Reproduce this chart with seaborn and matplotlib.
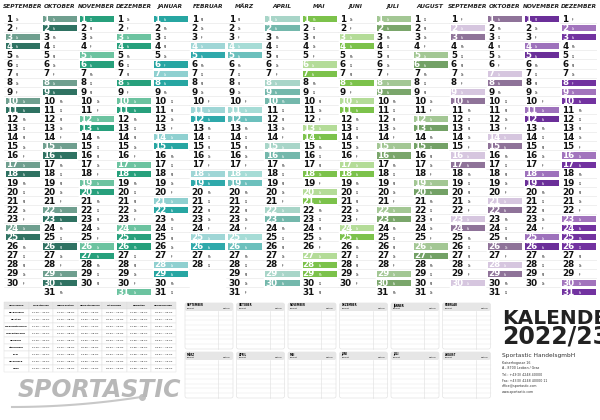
import datetime as dt
import numpy as np
import pandas as pd
import seaborn as sns
import matplotlib
matplotlib.use("Agg")
import matplotlib.pyplot as plt
from matplotlib.colors import ListedColormap
from matplotlib.patches import FancyBboxPatch

months = [(2022, 9), (2022, 10), (2022, 11), (2022, 12), (2023, 1), (2023, 2), (2023, 3), (2023, 4),
          (2023, 5), (2023, 6), (2023, 7), (2023, 8), (2023, 9), (2023, 10), (2023, 11), (2023, 12)]
month_names = ["SEPTEMBER", "OKTOBER", "NOVEMBER", "DEZEMBER", "JANUAR", "FEBRUAR", "MÄRZ", "APRIL",
               "MAI", "JUNI", "JULI", "AUGUST", "SEPTEMBER", "OKTOBER", "NOVEMBER", "DEZEMBER"]
sat_colors = ["#6f9f8f", "#6f9f8f", "#6cc3a0", "#6cc3a0", "#8fd0d0", "#9fd6d6", "#a6dcd6", "#a8d5c8",
              "#b4dc98", "#b4dc98", "#a3c794", "#a3c794", "#d6c6df", "#d6c6df", "#9e72bc", "#a274bd"]
sun_colors = ["#2f7262", "#2f7262", "#27a07c", "#27a07c", "#27a6a2", "#2fa9ab", "#6cc0bd", "#74b8ac",
              "#7cc24b", "#7cc24b", "#7aa66b", "#73a166", "#8f7399", "#8f7399", "#6b2f99", "#7232a0"]
holidays = ["2022-11-01", "2022-12-08", "2022-12-25", "2022-12-26", "2023-01-01", "2023-01-06",
            "2023-04-10", "2023-05-01", "2023-05-18", "2023-05-29", "2023-06-08", "2023-08-15",
            "2023-10-26", "2023-11-01", "2023-12-08", "2023-12-25", "2023-12-26", "2022-10-26"]
wd_abbr = ["Mo", "Di", "Mi", "Do", "Fr", "Sa", "So"]

ferien_cols = ["Schulferien", "Herbstferien", "Weihnachten", "Semesterferien", "Osterferien", "Pfingsten", "Sommerferien"]
ferien_rows = ["Burgenland", "Kärnten", "Niederösterreich", "Oberösterreich", "Salzburg", "Steiermark", "Tirol", "Vorarlberg", "Wien"]
ferien_semester = ["13.02. – 19.02.", "13.02. – 19.02.", "06.02. – 12.02.", "20.02. – 26.02.", "13.02. – 19.02.",
                   "20.02. – 26.02.", "13.02. – 19.02.", "13.02. – 19.02.", "06.02. – 12.02."]
ferien_sommer = ["01.07. – 03.09.", "08.07. – 10.09.", "01.07. – 03.09.", "08.07. – 10.09.", "08.07. – 10.09.",
                 "08.07. – 10.09.", "08.07. – 10.09.", "08.07. – 10.09.", "01.07. – 03.09."]
note_months = ["SEPTEMBER", "OKTOBER", "NOVEMBER", "DEZEMBER", "JÄNNER", "FEBRUAR",
               "MÄRZ", "APRIL", "MAI", "JUNI", "JULI", "AUGUST"]

hol = {dt.date.fromisoformat(h) for h in holidays}
code = np.full((31, 16), np.nan)
for j, (y, m) in enumerate(months):
    for d in range(1, 32):
        try:
            date = dt.date(y, m, d)
        except ValueError:
            continue
        wd = date.weekday()
        if date in hol or wd == 6:
            code[d - 1, j] = 2 + 2 * j
        elif wd == 5:
            code[d - 1, j] = 1 + 2 * j
        else:
            code[d - 1, j] = 0
palette = ["#ffffff"]
for s, u in zip(sat_colors, sun_colors):
    palette += [s, u]
cmap = ListedColormap(palette)

fig = plt.figure(figsize=(6, 4.2), dpi=100)
W, H = 600, 420
ax = fig.add_axes([4 / W, 1 - 296 / H, 593 / W, 282 / H])
df = pd.DataFrame(code)
sns.heatmap(df, ax=ax, cmap=cmap, vmin=-0.5, vmax=len(palette) - 0.5, cbar=False,
            linewidths=1.0, linecolor="white", mask=df.isna())
ax.set_xticks([]); ax.set_yticks([])
for j, (y, m) in enumerate(months):
    ax.text(j + 0.5, -0.6, month_names[j], ha="center", va="bottom", fontsize=4.2,
            fontweight="bold", style="italic", color="#222222")
    for d in range(31):
        if np.isnan(code[d, j]):
            continue
        date = dt.date(y, m, d + 1)
        c = "white" if code[d, j] > 0 else "#111111"
        ax.text(j + 0.06, d + 0.58, str(d + 1), ha="left", va="center", fontsize=6.3,
                fontweight="bold", color=c)
        ax.text(j + 0.06 + (0.26 if d < 9 else 0.44), d + 0.68, wd_abbr[date.weekday()],
                ha="left", va="center", fontsize=1.8, color=c)
        if code[d, j] == 0:
            ax.plot([j, j + 1], [d + 1, d + 1], color="#e4e4e4", lw=0.4)

# Schulferien table
tax = fig.add_axes([4 / W, 1 - 372 / H, 172 / W, 70 / H])
tax.axis("off")
cell = [[r, "27.10. – 31.10.", "24.12. – 08.01.", s, "01.04. – 10.04.", "27.05. – 29.05.", so]
        for r, s, so in zip(ferien_rows, ferien_semester, ferien_sommer)]
tbl = tax.table(cellText=cell, colLabels=ferien_cols, loc="center", cellLoc="center", bbox=[0, 0, 1, 1])
tbl.auto_set_font_size(False)
tbl.set_fontsize(1.7)
for (r, c), ce in tbl.get_celld().items():
    ce.set_edgecolor("#dddddd"); ce.set_linewidth(0.3)
    ce.get_text().set_fontsize(1.7)
    if r == 0:
        ce.set_facecolor("#e6e6e6"); ce.get_text().set_fontweight("bold")
    if c == 0:
        ce.get_text().set_fontweight("bold")

# Notes boxes
nax = fig.add_axes([0, 0, 1, 1]); nax.set_xlim(0, W); nax.set_ylim(H, 0); nax.axis("off")
for i, nm in enumerate(note_months):
    x0 = 185 + (i % 6) * 51.5
    y0 = 303 + (i // 6) * 49
    nax.add_patch(FancyBboxPatch((x0, y0), 48, 46, boxstyle="round,pad=0,rounding_size=2",
                                 fc="white", ec="#dddddd", lw=0.4))
    nax.add_patch(FancyBboxPatch((x0, y0), 48, 8, boxstyle="round,pad=0,rounding_size=2",
                                 fc="#e6e6e6", ec="none"))
    nax.text(x0 + 2, y0 + 2.5, nm, fontsize=1.8, fontweight="bold", va="center")
    nax.text(x0 + 2, y0 + 5.5, "Projekt", fontsize=1.6, va="center")
    nax.text(x0 + 38, y0 + 5.5, "Datum", fontsize=1.6, va="center")
    nax.plot([x0 + 33, x0 + 33], [y0 + 8, y0 + 46], color="#dddddd", lw=0.4)
    for k in range(1, 8):
        nax.plot([x0, x0 + 48], [y0 + 8 + k * 4.7, y0 + 8 + k * 4.7], color="#e4e4e4", lw=0.3)

nax.text(502, 318, "KALENDER", fontsize=14.5, fontweight="bold", color="#222222", va="center")
nax.text(502, 336, "2022/23", fontsize=17, fontweight="bold", color="#222222", va="center")
nax.text(502, 355, "Sportastic HandelsgmbH", fontsize=4.2, color="#333333", va="center")
nax.text(502, 361, "Kaiserhogasse 16\nA - 8700 Leoben / Graz", fontsize=2.3, color="#333333", va="top", linespacing=1.4)
nax.text(502, 373, "Tel.: +43(0) 4248 40000\nFax: +43(0) 4248 40000 11\noffice@sportastic.com\nwww.sportastic.com",
         fontsize=2.3, color="#333333", va="top", linespacing=1.5)
nax.text(18, 390, "SPORTASTIC", fontsize=17, fontstyle="italic", fontweight="bold", color="#b8b8b8",
         va="center")
xs = np.linspace(12, 142, 50)
nax.plot(xs, 407 - 0.0006 * (xs - 12) ** 2, color="#c8c8c8", lw=1.5)
nax.plot([142], [397], "o", color="#c0c0c0", ms=4)

fig.savefig("out.png", dpi=100, facecolor="white")
